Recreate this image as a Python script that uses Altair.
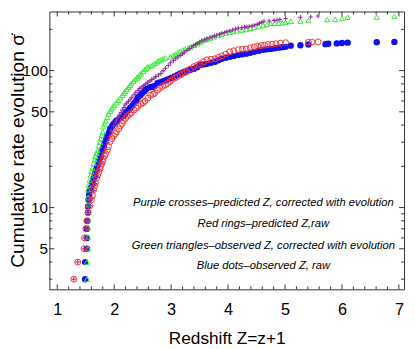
import altair as alt
import pandas as pd

# ---------------- data ----------------
z_blue = [1.49,1.49,1.52,1.52,1.52,1.53,1.54,1.54,1.55,1.56,1.57,1.59,1.61,1.62,1.64,1.66,1.67,1.69,1.71,1.73,
          1.75,1.76,1.78,1.80,1.82,1.83,1.86,1.88,1.91,1.93,1.96,1.99,2.02,2.04,2.08,2.11,2.16,2.19,2.21,2.25,
          2.28,2.32,2.35,2.39,2.42,2.46,2.49,2.53,2.56,2.63,2.66,2.70,2.76,2.80,2.85,2.90,2.94,3.00,3.06,3.11,
          3.16,3.22,3.28,3.34,3.40,3.46,3.51,3.57,3.63,3.70,3.77,3.83,3.89,3.96,4.03,4.10,4.18,4.25,4.32,4.39,
          4.46,4.54,4.62,4.68,4.75,4.82,4.89,4.95,5.01,5.10,5.27,5.41,5.71,5.76,5.91,6.00,6.10,6.61,6.92]
s_blue = [3,4,5,6,7,8,9.2,10.2,11.4,12.4,13.2,13.9,14.7,15.4,16.4,17.3,18.2,19.3,20.4,22.1,
          23.0,24.0,25.5,27.0,28.4,29.8,31.6,33.5,35.5,37.6,39.2,40.8,42.0,43.0,44.1,45.2,46.6,48.2,49.9,51.6,
          53.3,55.5,57.9,60.8,63.9,66.0,68.3,70.6,73.0,75.5,76.0,76.8,80.8,82.0,83.4,84.8,86.2,88.4,90.6,93.0,
          95.2,97.6,100,101.5,103,106,110,111,112,114,116,119,122,124,126,128,130,131.5,133,135,
          137,139.5,142,143,144,145.5,147,148,149,152,153,155,156,157,158,159,160,161,162]

z_red = [1.29,1.36,1.47,1.48,1.50,1.52,1.54,1.57,1.60,1.62,1.64,1.66,1.67,1.69,1.71,1.73,1.75,1.76,1.78,1.80,
         1.81,1.83,1.85,1.88,1.90,1.93,1.96,1.99,2.02,2.04,2.08,2.11,2.14,2.16,2.20,2.23,2.27,2.30,2.35,2.39,
         2.42,2.47,2.51,2.54,2.59,2.64,2.68,2.71,2.76,2.80,2.85,2.90,2.94,2.98,3.02,3.07,3.11,3.16,3.20,3.24,
         3.28,3.34,3.40,3.46,3.51,3.57,3.63,3.70,3.77,3.83,3.89,3.96,4.03,4.10,4.18,4.25,4.32,4.39,4.46,4.52,
         4.58,4.64,4.70,4.77,4.84,4.92,5.01,5.41,5.47,5.58]
s_red = [3,4,5,6,7,8,9.2,10.3,11.4,12.2,13.5,14.4,15.1,16.4,17.3,18.2,19.1,20.0,20.8,21.7,
         22.8,23.8,24.8,26.3,27.9,30.3,31.9,33.5,34.6,35.8,37.6,39.5,41.2,43.0,44.8,46.6,47.8,49.0,51.5,53.2,
         55.0,56.9,58.3,59.8,62.9,66.1,67.2,68.3,71.8,74.3,76.8,78.8,80.8,83.5,86.2,88.4,90.6,92.9,95.2,96.8,
         98.4,103,107,109.5,112,116,120,121,122,125,128,132,137,139.5,142,143,144,146.5,149,150.5,
         152,153.5,155,156,157,158.5,160,161,161.5,162]

z_green = [1.52,1.52,1.54,1.54,1.54,1.54,1.54,1.54,1.54,1.54,1.55,1.57,1.59,1.60,1.62,1.64,1.66,1.67,1.69,1.71,
           1.73,1.75,1.76,1.78,1.80,1.81,1.83,1.85,1.88,1.90,1.93,1.95,1.98,2.00,2.04,2.07,2.11,2.14,2.17,2.19,
           2.22,2.25,2.28,2.30,2.34,2.37,2.40,2.42,2.45,2.47,2.51,2.54,2.57,2.59,2.64,2.68,2.72,2.76,2.79,2.82,
           2.86,2.90,2.99,3.04,3.08,3.12,3.16,3.21,3.25,3.30,3.34,3.40,3.46,3.50,3.54,3.59,3.63,3.69,3.75,3.82,
           3.89,3.96,4.03,4.09,4.15,4.24,4.32,4.39,4.46,4.54,4.62,4.68,4.75,4.82,4.89,4.95,5.01,5.10,5.27,5.41,
           5.74,5.88,6.00,6.10,6.61,6.92]
s_green = [3.0,4.0,5.0,6.1,7.2,8.2,9.4,10.5,11.8,13.5,14.6,15.9,17.3,18.3,19.4,21.1,22.4,23.7,24.9,26.1,
           28.4,30.1,31.8,33.8,35.8,38.9,41.0,43.0,45.6,48.3,50.4,52.5,54.2,55.9,58.3,60.8,63.4,66.1,68.3,70.6,
           73.0,75.5,78.1,80.8,83.5,86.2,88.4,90.6,92.9,95.2,98.6,102,104.5,107,108.5,110,113,116,118,120,
           122,124,126,129,132,135.5,139,141.5,144,146.5,149,153,157,161,165,167.5,170,173,176,180.5,
           185,188,191,193,195,197.5,200,203.5,207,210,213,217,221,221.5,222,223.5,225,229,230,232,
           236,237,240,245,246,249]

z_purple = [1.29,1.36,1.47,1.48,1.50,1.52,1.54,1.57,1.61,1.64,1.67,1.71,1.74,1.78,1.81,1.85,1.88,1.92,1.95,1.99,
            2.02,2.04,2.07,2.09,2.12,2.14,2.17,2.19,2.22,2.25,2.28,2.31,2.35,2.38,2.42,2.45,2.49,2.52,2.56,2.59,
            2.63,2.66,2.70,2.73,2.78,2.82,2.86,2.90,2.95,2.99,3.04,3.08,3.12,3.16,3.20,3.23,3.28,3.32,3.36,3.39,
            3.43,3.46,3.50,3.54,3.59,3.63,3.68,3.72,3.76,3.80,3.85,3.89,3.94,3.98,4.03,4.08,4.13,4.18,4.24,4.29,
            4.33,4.37,4.42,4.46,4.51,4.55,4.59,4.63,4.72,4.81,4.86,4.91,5.01,5.27,5.45,5.58]
s_purple = [3,4,5,6,7,8,9.2,10.3,11.6,13.3,14.9,16.7,18.8,21.1,23.7,26.6,29.8,32.9,36.4,39.5,
            41.6,43.7,45.5,47.4,49.4,51.5,53.7,56.0,57.9,59.8,61.8,63.9,66.6,69.4,71.8,74.2,76.1,78.0,80.0,82.1,
            84.1,86.2,88.4,90.6,92.9,95.2,99.5,104,109,114,118,122,125.5,129,132.5,136,140.5,145,148.5,152,
            155,158,161.5,165,168,171,173.5,176,178.5,181,184,187,189.5,192,195,198,201,204,205.5,207,
            208.5,210,212,214,217.5,221,225,229,230,232,234,236,240,245,246,250]

notes = ["Purple crosses\u2013predicted Z, corrected with evolution",
         "Red rings\u2013predicted Z,raw",
         "Green triangles\u2013observed Z, corrected with evolution",
         "Blue dots\u2013observed Z, raw"]
notes_z = [4.62, 4.62, 4.62, 4.62]
notes_s = [10.7, 7.55, 5.25, 3.72]

x_major = [1, 2, 3, 4, 5, 6, 7]
x_minor = [1.2,1.4,1.6,1.8,2.2,2.4,2.6,2.8,3.2,3.4,3.6,3.8,4.2,4.4,4.6,4.8,
           5.2,5.4,5.6,5.8,6.2,6.4,6.6,6.8]
y_major = [5, 10, 50, 100]
y_minor = [3, 4, 6, 7, 8, 9, 20, 30, 40, 60, 70, 80, 90, 200]

# ---------------- chart ----------------
W, H = 360, 282
FONT = "Liberation Sans, Arial, sans-serif"
FRAME = "#333333"

xs = alt.Scale(domain=[0.862, 7.09], nice=False, zero=False)
ys = alt.Scale(type="log", domain=[2.53, 270], nice=False)

xaxis = alt.Axis(values=x_major, format="d", title="Redshift Z=z+1", ticks=False, domain=False, grid=False,
                 labelFont=FONT, labelFontSize=16.5, labelPadding=13, labelColor="black", labelFlush=False,
                 labelOverlap=False, titleFont=FONT, titleFontSize=17.5, titleFontWeight="normal",
                 titlePadding=11, titleColor="black")
yaxis = alt.Axis(values=y_major, format="d", title="Cumulative rate evolution \u03c3\u0307", ticks=False,
                 domain=False, grid=False, labelFont=FONT, labelFontSize=15.5, labelPadding=2,
                 labelColor="black", labelFlush=False, labelOverlap=False,
                 titleFont=FONT, titleFontSize=19.5, titleFontWeight="normal",
                 titleX=-41.5, titleBaseline="top", titleColor="black")

def XE():
    return alt.X("z:Q", scale=xs, axis=xaxis)

def YE():
    return alt.Y("s:Q", scale=ys, axis=yaxis)

df_blue = pd.DataFrame({"z": z_blue, "s": s_blue})
df_red = pd.DataFrame({"z": z_red, "s": s_red})
df_green = pd.DataFrame({"z": z_green, "s": s_green})
df_purple = pd.DataFrame({"z": z_purple, "s": s_purple})

blue = alt.Chart(df_blue).mark_point(shape="circle", filled=True, size=42, color="#1010ee", opacity=1,
                                     strokeWidth=0).encode(x=XE(), y=YE())
green = alt.Chart(df_green).mark_point(shape="triangle-up", filled=False, size=28, color="#33ee33",
                                       strokeWidth=1, opacity=1).encode(x=XE(), y=YE())
purple = alt.Chart(df_purple).mark_point(shape="M-1,0L1,0M0,-1L0,1", filled=False, size=20,
                                         color="#922f9e", strokeWidth=1.1, opacity=1).encode(x=XE(), y=YE())
red = alt.Chart(df_red).mark_point(shape="circle", filled=False, size=36, color="#ff3030",
                                   strokeWidth=1, opacity=1).encode(x=XE(), y=YE())

df_notes = pd.DataFrame({"z": notes_z, "s": notes_s, "t": notes})
text = alt.Chart(df_notes).mark_text(font=FONT, fontSize=11.4, fontStyle="italic", align="center",
                                     baseline="middle", color="black").encode(x=XE(), y=YE(), text="t:N")

# inward frame ticks
dxM = pd.DataFrame({"z": x_major})
dxm = pd.DataFrame({"z": x_minor})
dyM = pd.DataFrame({"s": y_major})
dym = pd.DataFrame({"s": y_minor})

def xticks(df, L):
    b = alt.Chart(df).mark_rule(color=FRAME, strokeWidth=1).encode(x=XE(), y=alt.value(H), y2=alt.value(H - L))
    t = alt.Chart(df).mark_rule(color=FRAME, strokeWidth=1).encode(x=XE(), y=alt.value(0), y2=alt.value(L))
    return [b, t]

def yticks(df, L):
    l = alt.Chart(df).mark_rule(color=FRAME, strokeWidth=1).encode(y=YE(), x=alt.value(0), x2=alt.value(L))
    r = alt.Chart(df).mark_rule(color=FRAME, strokeWidth=1).encode(y=YE(), x=alt.value(W), x2=alt.value(W - L))
    return [l, r]

layers = xticks(dxM, 5) + xticks(dxm, 3) + yticks(dyM, 5) + yticks(dym, 3) + [blue, green, purple, red, text]

chart = alt.layer(*layers).properties(
    width=W, height=H,
    padding={"left": 42, "top": 1, "right": 3, "bottom": 57},
    autosize=alt.AutoSizeParams(type="none"),
    background="white",
).configure_view(stroke=FRAME, strokeWidth=1)

chart.save("out.html", embed_options={"renderer": "svg", "actions": False})
